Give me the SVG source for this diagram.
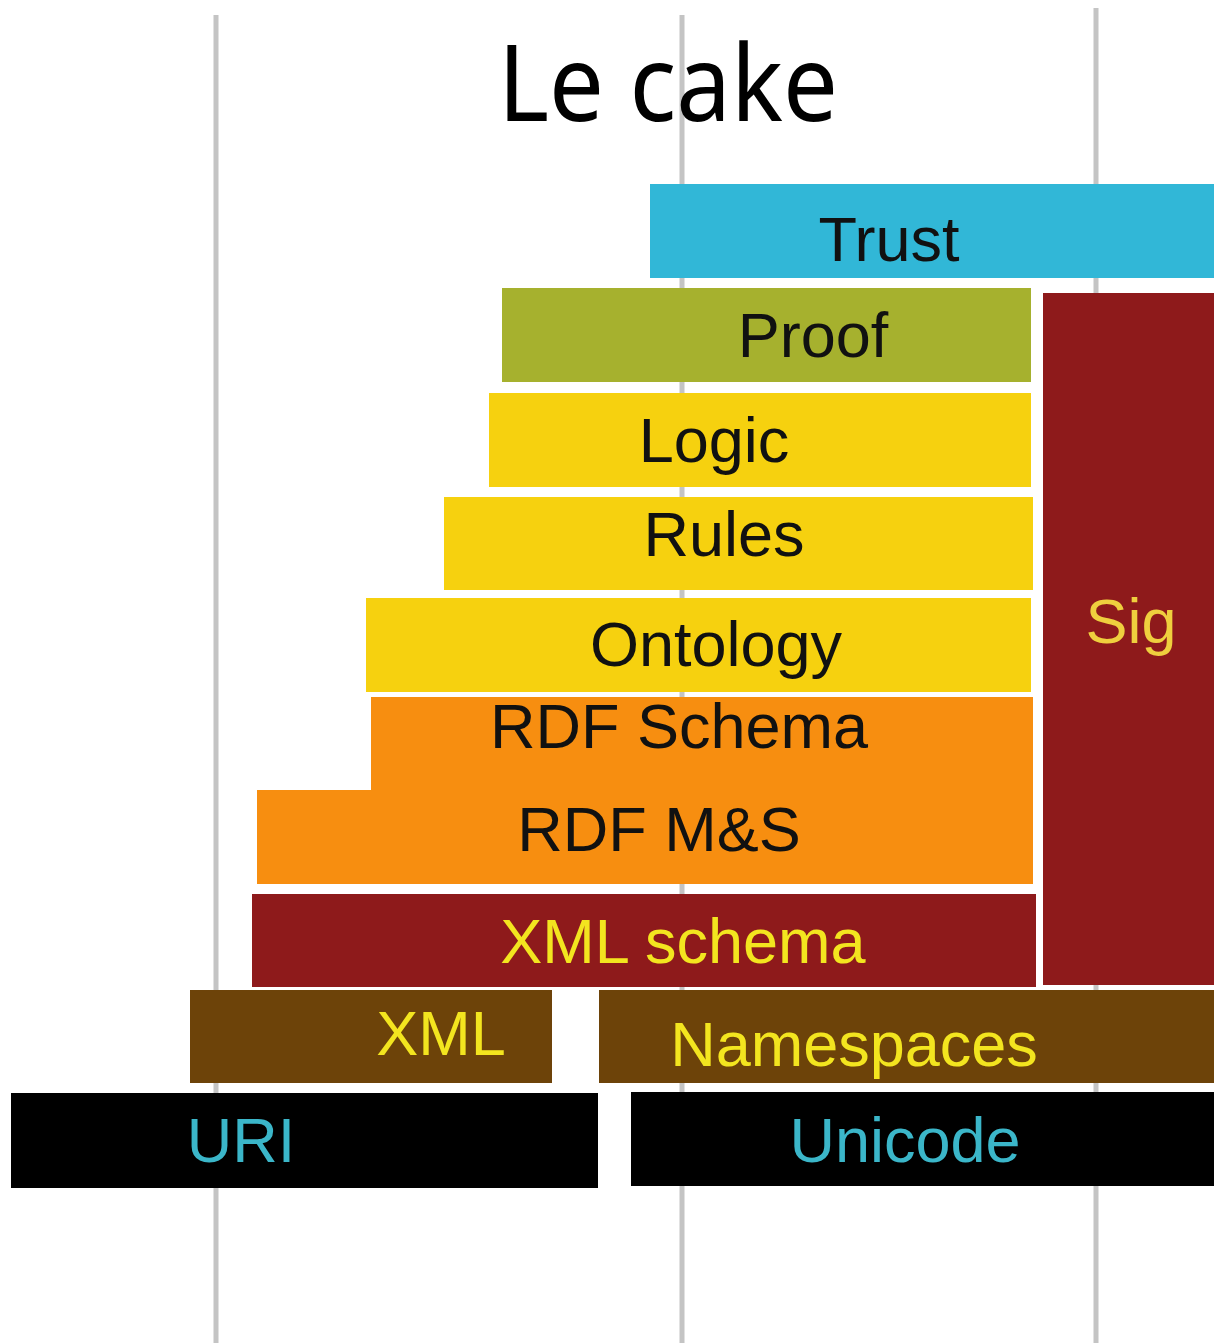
<svg xmlns="http://www.w3.org/2000/svg" width="1214" height="1343" viewBox="0 0 1214 1343">
<style>
.guide{stroke:#c4c4c4;stroke-width:5;fill:none}
.lbl{font-family:"Liberation Sans",Arial,sans-serif;font-size:63px;text-anchor:middle}
.dark{fill:#111}
.yel{fill:#f3e51f}
.gold{fill:#efcf3e}
.cyan{fill:#3bb6c9}
</style>
<rect x="0" y="0" width="1214" height="1343" fill="#ffffff"/>
<g id="guides">
<line class="guide" x1="216" y1="15" x2="216" y2="1343"/>
<line class="guide" x1="682" y1="15" x2="682" y2="1343"/>
<line class="guide" x1="1096" y1="8" x2="1096" y2="1343"/>
</g>
<text id="title" x="668" y="121" font-family="'Noto Sans','Open Sans',sans-serif" font-size="106" text-anchor="middle" textLength="340" lengthAdjust="spacingAndGlyphs" fill="#000">Le cake</text>
<g id="trust"><rect x="650" y="184" width="564" height="94" fill="#31b7d7"/><text class="lbl dark" x="889" y="261">Trust</text></g>
<g id="proof"><rect x="502" y="288" width="529" height="94" fill="#a6b12e"/><text class="lbl dark" x="813" y="357">Proof</text></g>
<g id="sig"><rect x="1043" y="293" width="171" height="692" fill="#8e1a1b"/><text class="lbl gold" x="1131" y="643">Sig</text></g>
<g id="logic"><rect x="489" y="393" width="542" height="94" fill="#f6d10f"/><text class="lbl dark" x="714" y="462">Logic</text></g>
<g id="rules"><rect x="444" y="497" width="589" height="93" fill="#f6d10f"/><text class="lbl dark" x="724" y="556">Rules</text></g>
<g id="ontology"><rect x="366" y="598" width="665" height="94" fill="#f6d10f"/><text class="lbl dark" x="716" y="666">Ontology</text></g>
<g id="rdf"><polygon points="371,697 1033,697 1033,884 257,884 257,790 371,790" fill="#f78e10"/><text class="lbl dark" x="679" y="748">RDF Schema</text><text class="lbl dark" x="659" y="851">RDF M&amp;S</text></g>
<g id="xmlschema"><rect x="252" y="894" width="784" height="93" fill="#8e1a1b"/><text class="lbl yel" x="683" y="963">XML schema</text></g>
<g id="xml"><rect x="190" y="990" width="362" height="93" fill="#6d4309"/><text class="lbl yel" x="441" y="1055">XML</text></g>
<g id="namespaces"><rect x="599" y="990" width="615" height="93" fill="#6d4309"/><text class="lbl yel" x="854" y="1066">Namespaces</text></g>
<g id="uri"><rect x="11" y="1093" width="587" height="95" fill="#000"/><text class="lbl cyan" x="241" y="1162">URI</text></g>
<g id="unicode"><rect x="631" y="1092" width="583" height="94" fill="#000"/><text class="lbl cyan" x="905" y="1162">Unicode</text></g>
</svg>
